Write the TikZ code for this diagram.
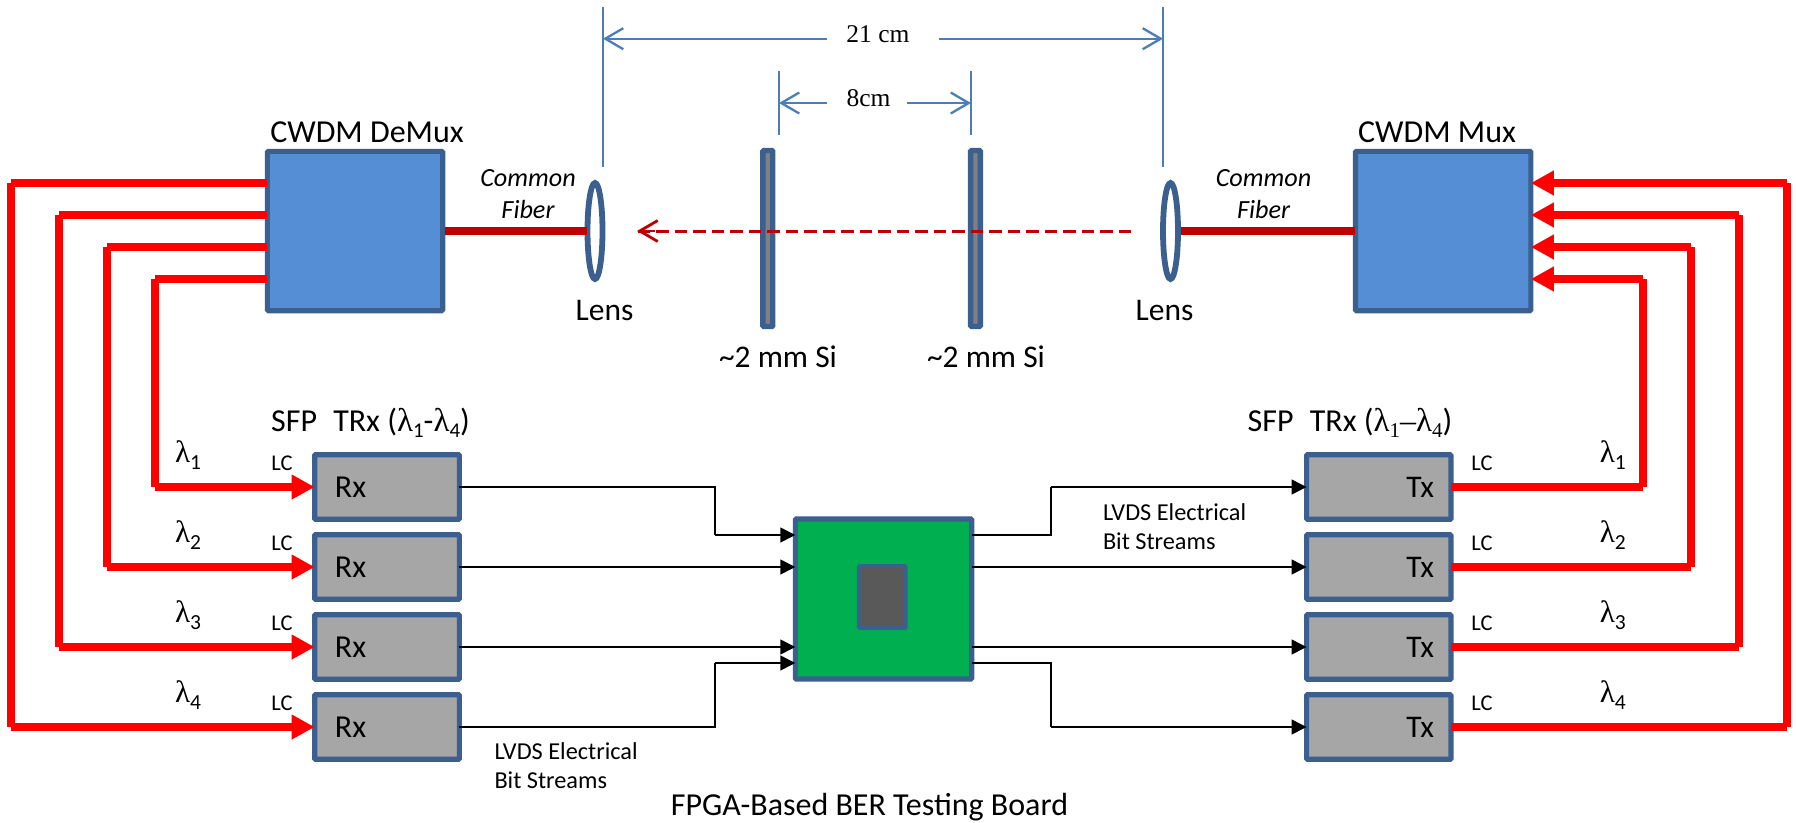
\documentclass[tikz,border=0pt]{standalone}
\usepackage{fontspec}
\setmainfont{Carlito}
\newfontfamily\lam{Liberation Serif}
\usetikzlibrary{arrows.meta,shapes.geometric}
\definecolor{edgeblue}{HTML}{3B5F8E}
\definecolor{fillblue}{HTML}{558ED5}
\definecolor{dimblue}{HTML}{4A7EBB}
\definecolor{fibre}{HTML}{C00000}
\definecolor{boxgrey}{HTML}{A6A6A6}
\definecolor{board}{HTML}{00B050}
\newcommand{\fs}[2]{\fontsize{#1}{#2}\selectfont}
\newcommand{\lsub}[1]{{\lam\fs{31}{32}λ}{\fs{21.5}{24}\raisebox{-6.5pt}{#1}}}
\newcommand{\ssub}[1]{{\lam\fs{33}{34}λ}{\fs{21}{24}\raisebox{-6pt}{#1}}}
\newcommand{\tsub}[1]{{\lam\fs{33}{34}λ\fs{21}{24}\raisebox{-6pt}{#1}}}
\tikzset{
  every node/.style={inner sep=0pt,outer sep=0pt},
  mainbox/.style={draw=edgeblue,line width=5.2pt,fill=fillblue,rounded corners=1pt,minimum width=175.3pt,minimum height=159.3pt},
  rxbox/.style={draw=edgeblue,line width=5.2pt,fill=boxgrey,rounded corners=1pt,minimum height=64.6pt,inner xsep=20.3pt,text width=104.1pt,align=flush left,font=\fs{32}{34}},
  txbox/.style={draw=edgeblue,line width=5.2pt,fill=boxgrey,rounded corners=1pt,minimum height=64.6pt,inner xsep=17pt,text width=110.4pt,align=flush right,font=\fs{31.5}{34}},
  plate/.style={draw=edgeblue,line width=5.4pt,fill=gray,rounded corners=1pt,minimum width=9.8pt,minimum height=176pt},
  lens/.style={ellipse,draw=edgeblue,line width=5.8pt,fill=white,minimum width=15pt,minimum height=96pt},
  redline/.style={draw=red,line width=7.7pt},
  redarrow/.style={redline,-{Triangle[length=23pt,width=23.4pt]}},
  blackline/.style={draw=black,line width=2.4pt},
  blackarrow/.style={blackline,-{Triangle[length=15pt,width=14.6pt]}},
  fibreline/.style={draw=fibre,line width=8pt},
  dimline/.style={draw=dimblue,line width=2.3pt},
  dimarrow/.style={dimline,-{Straight Barb[length=18pt,width=21pt,line width=2.3pt]}},
  dashline/.style={draw=fibre,line width=3pt,dash pattern=on 12.5pt off 6pt},
  title/.style={font=\fs{32}{34}},
  lcl/.style={font=\fs{22.5}{26}},
  notes/.style={font=\fs{24.3}{29},align=flush left,anchor=north west},
  fibrenote/.style={font=\itshape\fs{26.2}{32},align=center},
  serifdim/.style={font=\lam\fs{25.5}{28}},
  lenstext/.style={font=\fs{31.5}{34}}
}
\begin{document}
\begin{tikzpicture}[x=1pt,y=-1pt]
\useasboundingbox (0,0) rectangle (1796,822);

% boxes
\node[mainbox] (demux) at (355,231) {};
\node[mainbox] (mux) at (1443.2,231) {};
\node[lens] (lensL) at (595,231) {};
\node[lens] (lensR) at (1170.5,231) {};
\node[plate] (si1) at (767.8,238.5) {};
\node[plate] (si2) at (975.5,238.5) {};

\foreach \n/\y in {1/487,2/567,3/647,4/727}{
  \node[rxbox] (rx\n) at (387,\y) {Rx};
  \node[txbox] (tx\n) at (1378.8,\y) {Tx};
  \node[lcl] (lcr\n) at (282,\y-24) {LC};
  \node[lcl] (lct\n) at (1482,\y-24) {LC};
  \node (lamr\n) at (188,\y-32) {\lsub{\n}};
  \node (lamt\n) at (1612.7,\y-32) {\lsub{\n}};
}
\node[draw=edgeblue,line width=5.2pt,fill=board,rounded corners=1pt,minimum width=176.3pt,minimum height=160pt] (fpga) at (883.5,599) {};
\node[draw=edgeblue,line width=3.8pt,fill=black!65,rounded corners=1pt,minimum width=47pt,minimum height=62pt] (chip) at (882.3,597) {};

% fibres
\draw[fibreline,shorten <=2pt,shorten >=1pt] (demux.east) -- (lensL.west);
\draw[fibreline,shorten <=2.5pt,shorten >=1pt] (lensR.east) -- (mux.west);

% free-space beam
\coordinate (beamS) at (1131,231);
\coordinate (beamE) at (637,231);
\draw[dashline] (beamS) -- (beamE);
\draw[draw=fibre,line width=2.8pt,-{Straight Barb[length=18pt,width=21pt,line width=2.8pt]}] (655,231) -- (beamE);

% left red links
\foreach \y/\x/\t in {183/11/rx4,215/59/rx3,247/107/rx2,279/155/rx1}{
  \coordinate (a) at (\x,\y);
  \coordinate (b) at (a |- \t.west);
  \draw[redline] (demux.west |- a) -- (a);
  \draw[redline] (a) -- (b);
  \draw[redarrow] (b) -- (\t.west);
}
% right red links
\foreach \y/\x/\t in {183/1787/tx4,215/1739/tx3,247/1691/tx2,279/1643/tx1}{
  \coordinate (a) at (\x,\y);
  \coordinate (b) at (a |- \t.east);
  \draw[redline] (\t.east) -- (b);
  \draw[redline] (b) -- (a);
  \draw[redarrow] (a) -- (mux.east |- a);
}

% electrical
\draw[blackline] (rx1.east) -- (715,487) -- (715,535);
\draw[blackarrow] (715,535) -- (fpga.west |- 715,535);
\draw[blackarrow] (rx2.east) -- (fpga.west |- rx2.east);
\draw[blackarrow] (rx3.east) -- (fpga.west |- rx3.east);
\draw[blackline] (rx4.east) -- (715,727) -- (715,663);
\draw[blackarrow] (715,663) -- (fpga.west |- 715,663);
\draw[blackline] (fpga.east |- 1051,535) -- (1051,535) -- (1051,487);
\draw[blackarrow] (1051,487) -- (tx1.west);
\draw[blackarrow] (fpga.east |- tx2.west) -- (tx2.west);
\draw[blackarrow] (fpga.east |- tx3.west) -- (tx3.west);
\draw[blackline] (fpga.east |- 1051,663) -- (1051,663) -- (1051,727);
\draw[blackarrow] (1051,727) -- (tx4.west);

% dimensions
\coordinate (d21at) at (603,7);
\coordinate (d21ab) at (603,167);
\coordinate (d21bt) at (1163,7);
\coordinate (d21bb) at (1163,167);
\coordinate (d8at) at (779,71);
\coordinate (d8ab) at (779,135);
\coordinate (d8bt) at (971,71);
\coordinate (d8bb) at (971,135);
\draw[dimline] (d21at) -- (d21ab);
\draw[dimline] (d21bt) -- (d21bb);
\draw[dimline] (d8at) -- (d8ab);
\draw[dimline] (d8bt) -- (d8bb);
\node[serifdim] (t21) at (878,34) {21 cm};
\node[serifdim] (t8) at (868.5,98) {8cm};
\coordinate (g21l) at (827,38.7);
\coordinate (g21r) at (939,38.7);
\coordinate (g8l) at (827,103);
\coordinate (g8r) at (907,103);
\draw[dimarrow] (g21l) -- (d21at |- g21l);
\draw[dimarrow] (g21r) -- (d21bt |- g21r);
\draw[dimarrow] (g8l) -- (d8at |- g8l);
\draw[dimarrow] (g8r) -- (d8bt |- g8r);

% labels
\node[title] (tdemux) at (367,132) {CWDM DeMux};
\node[title] (tmux) at (1437,132) {CWDM Mux};
\node[fibrenote] (cfl) at (528,194) {Common\\Fiber};
\node[fibrenote] (cfr) at (1263.5,194) {Common\\Fiber};
\node[lenstext] (ll) at (604.5,311) {Lens};
\node[lenstext] (lr) at (1164.5,311) {Lens};
\node[lenstext] (s1) at (778,357) {\char`\~2 mm Si};
\node[lenstext] (s2) at (986,357) {\char`\~2 mm Si};
\node[font=\fs{32}{34}] (sfpl) at (370.5,423) {SFP\hspace{9pt}\ TRx (\ssub{1}-\ssub{4})};
\node[font=\fs{32}{34}] (sfpr) at (1350,423) {SFP\hspace{9pt}\ TRx (\tsub{1}{\lam –}\tsub{4})};
\node[notes] (lv1) at (1103,504) {LVDS Electrical\\Bit Streams};
\node[notes] (lv2) at (494.5,743) {LVDS Electrical\\Bit Streams};
\node[font=\fs{32}{34}] (ftitle) at (869.5,807) {FPGA-Based BER Testing Board};
\end{tikzpicture}
\end{document}
